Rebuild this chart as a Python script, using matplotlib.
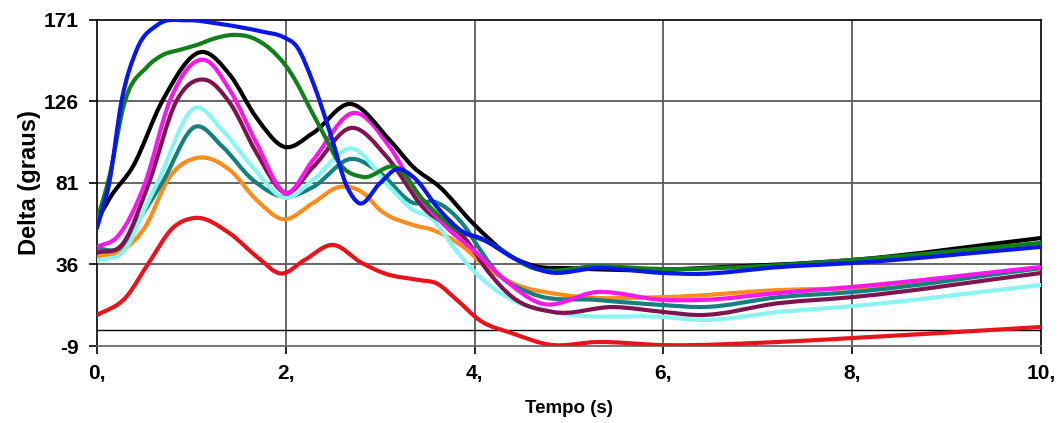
import matplotlib.pyplot as plt
import numpy as np
from matplotlib.path import Path
from matplotlib.patches import PathPatch

plt.rcParams["font.family"] = ["Liberation Sans", "DejaVu Sans"]
plt.rcParams["font.weight"] = "bold"

# ângulo delta (graus) de cada gerador ao longo do tempo (s)
red_x = [0, 0.3, 0.55, 0.8, 1.04, 1.4, 1.7, 1.95, 2.2, 2.5, 2.8, 3.05, 3.4, 3.6, 3.8, 4.06, 4.4,
         4.8, 5.3, 6.0, 7.2, 8.0, 10.0]
red_y = [8, 17.5, 37, 56, 61.7, 53.4, 40, 31, 38.5, 46.8, 37, 31, 27.5, 25.5, 17, 5, -2,
         -8.3, -6.8, -8.5, -6.8, -4.6, 1.5]

orange_x = [0, 0.28, 0.51, 0.77, 1.06, 1.41, 1.69, 1.97, 2.29, 2.57, 2.82, 3.0, 3.35, 3.56, 3.88, 4.16,
            4.4, 4.94, 6.0, 7.23, 8.0, 10.0]
orange_y = [40, 44, 56.7, 84.3, 94.8, 88, 71.6, 61, 70, 78.8, 75.5, 66, 57.8, 55, 45.7, 33,
            25.8, 19.2, 18, 21.9, 23, 34]

teal_x = [0, 0.25, 0.46, 0.69, 1.04, 1.33, 1.65, 2.0, 2.29, 2.7, 3.0, 3.35, 3.58, 3.88, 4.06, 4.24,
          4.59, 5.3, 6.0, 6.4, 7.23, 8.0, 10.0]
teal_y = [44.8, 45.5, 62, 81, 112, 101, 82.7, 73.3, 78.8, 94.3, 86.5, 70, 70.5, 58, 44, 31.3,
          20.3, 16.4, 13.6, 12.5, 18, 20.8, 34]

cyan_x = [0, 0.32, 0.5, 0.64, 1.04, 1.33, 1.65, 2.0, 2.29, 2.7, 3.1, 3.35, 3.53, 3.8, 3.98, 4.4,
          4.83, 6.0, 6.39, 7.23, 8.0, 10.0]
cyan_y = [38, 45.7, 66, 81, 122.4, 110, 89.8, 72.7, 82.7, 100, 78.8, 66, 62, 44, 33, 16.4,
          9.8, 7, 5.4, 9.8, 13, 24.7]

maroon_x = [0, 0.28, 0.55, 0.84, 1.14, 1.41, 1.69, 2.0, 2.29, 2.7, 3.07, 3.45, 3.92, 4.13, 4.4, 4.83,
            5.47, 6.0, 6.36, 7.23, 8.0, 10.0]
maroon_y = [42.4, 47.9, 81, 126, 138, 125, 97.6, 75.5, 89.8, 111.4, 95.4, 67.8, 49, 33, 18, 9.8,
            12.5, 9.8, 8.1, 14.7, 18, 31.3]

magenta_x = [0, 0.21, 0.51, 0.77, 1.14, 1.41, 1.69, 2.0, 2.29, 2.73, 3.1, 3.42, 3.7, 4.02, 4.3, 4.69,
             5.3, 6.0, 6.39, 7.23, 8.0, 10.0]
magenta_y = [45.7, 51, 81, 126, 148.9, 132, 103, 75.5, 93.7, 119.7, 100.9, 73.3, 56.7, 42.4, 28.5, 14.7,
             20.8, 16.4, 16.4, 20.3, 23.6, 34.6]

black_x = [0, 0.14, 0.38, 0.69, 1.12, 1.41, 1.69, 1.98, 2.29, 2.68, 3.1, 3.35, 3.63, 3.98, 4.4,
           4.65, 5.0, 6.0, 6.39, 8.0, 10.0]
black_y = [60, 73, 90, 126, 153.3, 140.5, 117, 101, 108.6, 124.6, 104.7, 89.8, 78.8, 58.9, 40,
           35, 34, 33, 34, 38.5, 50.6]

green_x = [0, 0.14, 0.28, 0.53, 0.7, 0.88, 1.06, 1.23, 1.44, 1.65, 2.01, 2.36, 2.6, 2.82, 3.18, 3.45,
           3.77, 4.16, 4.62, 5.3, 6.0, 7.0, 8.0, 10.0]
green_y = [60, 86.5, 123, 145, 151.7, 154.5, 157.2, 160.5, 162.7, 161, 145, 112, 89.8, 84.3, 89.3, 72,
           56.7, 47.9, 34, 35, 33.5, 35, 38.5, 47.9]

blue_x = [0, 0.13, 0.26, 0.42, 0.64, 0.95, 1.3, 1.76, 1.97, 2.12, 2.29, 2.47, 2.65, 2.77, 3.0, 3.18,
          3.35, 3.63, 3.88, 4.06, 4.4, 4.77, 5.3, 6.0, 6.36, 7.23, 8.0, 10.0]
blue_y = [56, 81, 126, 154.4, 168.2, 170.8, 168.8, 164.4, 161.6, 156, 136.2, 108.6, 78.8, 70, 81, 88.7,
          84.3, 66, 53.9, 50.6, 40, 31.9, 34, 31.3, 30.8, 34.6, 36.8, 45.7]

series = [
    (red_x, red_y, "#E8141B"),
    (orange_x, orange_y, "#FF8C1E"),
    (teal_x, teal_y, "#168080"),
    (cyan_x, cyan_y, "#8AF5F0"),
    (maroon_x, maroon_y, "#7E1550"),
    (magenta_x, magenta_y, "#F51AE8"),
    (black_x, black_y, "#000000"),
    (green_x, green_y, "#12801A"),
    (blue_x, blue_y, "#0A18E6"),
]

y_ticks = [-9, 36, 81, 126, 171]
x_ticks = [0, 2, 4, 6, 8, 10]


def smooth_path(xs, ys):
    # curva suave (Hermite cúbica, tangentes de Bessel) desenhada como Bezier
    x = np.asarray(xs, float)
    y = np.asarray(ys, float)
    h = np.diff(x)
    d = np.diff(y) / h
    m = np.empty_like(y)
    m[0], m[-1] = d[0], d[-1]
    m[1:-1] = (h[:-1] * d[1:] + h[1:] * d[:-1]) / (h[:-1] + h[1:])
    verts = [(x[0], y[0])]
    codes = [Path.MOVETO]
    for i in range(len(x) - 1):
        verts += [(x[i] + h[i] / 3, y[i] + m[i] * h[i] / 3),
                  (x[i + 1] - h[i] / 3, y[i + 1] - m[i + 1] * h[i] / 3),
                  (x[i + 1], y[i + 1])]
        codes += [Path.CURVE4] * 3
    return Path(verts, codes)


fig = plt.figure(figsize=(10.62, 4.23), dpi=100)
ax = fig.add_axes([0.0913, 0.182, 0.889, 0.771])

for xs, ys, color in series:
    ax.add_patch(PathPatch(smooth_path(xs, ys), fill=False, edgecolor=color, lw=3.0,
                           capstyle="round", joinstyle="round", zorder=3))

ax.set_xlim(0, 10)
ax.set_ylim(-9, 171)
ax.set_xticks(x_ticks)
ax.set_xticklabels([f"{t}," for t in x_ticks])
ax.set_yticks(y_ticks)
ax.set_yticklabels([str(t) for t in y_ticks])
ax.tick_params(direction="out", length=6, width=1.2, labelsize=15, pad=7)

for y in y_ticks[1:-1]:
    ax.axhline(y, color="#5a5a5a", lw=1.3, zorder=1)
for x in x_ticks[1:-1]:
    ax.axvline(x, color="#5a5a5a", lw=1.3, zorder=1)
ax.axhline(0, color="black", lw=1.0, zorder=1)

for side in ["left", "top", "right"]:
    ax.spines[side].set_color("black")
    ax.spines[side].set_linewidth(1.2)
ax.spines["bottom"].set_color("#6a6a6a")
ax.spines["bottom"].set_linewidth(1.3)

ax.set_xlabel("Tempo (s)", fontsize=13.5, fontweight="bold", labelpad=12)
ax.set_ylabel("Delta (graus)", fontsize=17, fontweight="bold", labelpad=2)

fig.savefig("out.png", dpi=100)
